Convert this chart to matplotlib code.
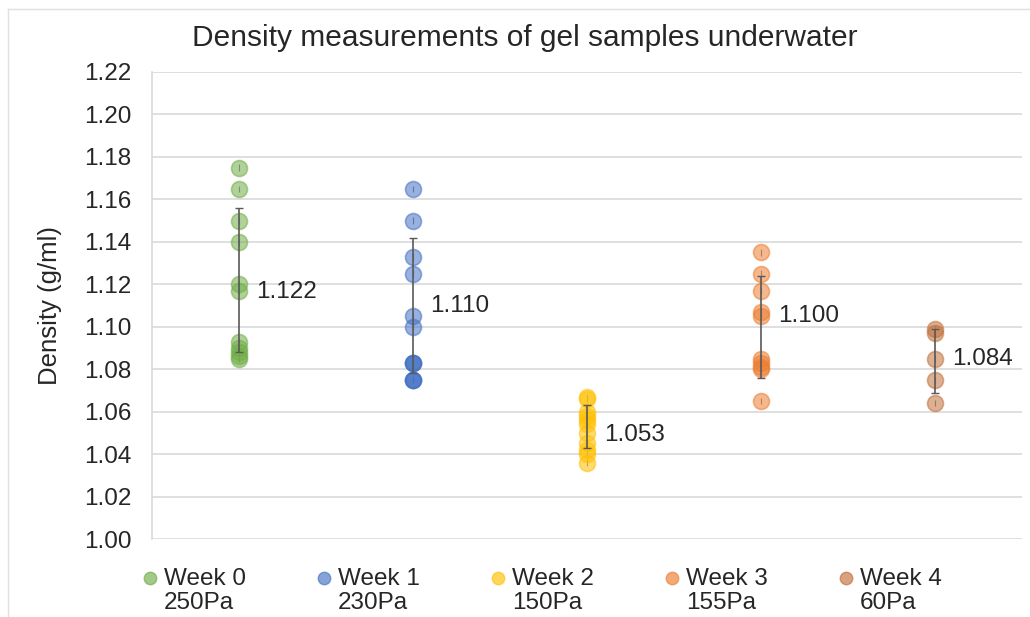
import numpy as np
import matplotlib
matplotlib.use('Agg')
import matplotlib.pyplot as plt
from matplotlib.lines import Line2D

plt.rcParams['font.family'] = ['Liberation Sans', 'DejaVu Sans']

#%% data
groups = ['Week 0\n250Pa', 'Week 1\n230Pa', 'Week 2\n150Pa', 'Week 3\n155Pa', 'Week 4\n60Pa']
week0 = [1.175, 1.165, 1.150, 1.140, 1.120, 1.117, 1.093, 1.090, 1.088, 1.086, 1.085]
week1 = [1.165, 1.150, 1.133, 1.125, 1.105, 1.100, 1.083, 1.083, 1.083, 1.075, 1.075, 1.075]
week2 = [1.067, 1.066, 1.060, 1.058, 1.056, 1.054, 1.050, 1.045, 1.042, 1.040, 1.036]
week3 = [1.135, 1.125, 1.117, 1.107, 1.105, 1.085, 1.083, 1.081, 1.080, 1.065]
week4 = [1.099, 1.097, 1.085, 1.075, 1.064]
means = [1.122, 1.110, 1.053, 1.100, 1.084]
stdev = [0.034, 0.032, 0.010, 0.024, 0.015]

#%% style
face = ['#70AD47', '#4472C4', '#FFC000', '#ED7D31', '#C0703A']
label_dy = [-12, 0, -9, 11, 2]   # label nudge in pixels (Excel placement), + is up
fs = 17.5

fig = plt.figure(figsize=(10.30, 6.17), dpi=100)
ax = fig.add_axes([152/1030, 78/617, 870/1030, 467/617])

series = [week0, week1, week2, week3, week4]
for i, vals in enumerate(series):
    x = np.full(len(vals), i)
    ax.errorbar(x, vals, yerr=0.0015, fmt='none', ecolor='#7F7F7F', elinewidth=0.8, zorder=2)
    ax.plot(x, vals, 'o', ms=11.5, mfc=face[i], mec=face[i], alpha=0.55, mew=1.2, zorder=3)
    ax.errorbar(i, means[i], yerr=stdev[i], fmt='none', ecolor='#595959',
                elinewidth=1.2, capsize=3, capthick=1, zorder=4)
    ax.annotate('%.3f' % means[i], (i, means[i]), xytext=(12, label_dy[i] * 0.72),
                textcoords='offset points', ha='left', va='center', fontsize=fs, color='#262626')

ax.set_xlim(-0.5, 4.5)
ax.set_ylim(1.00, 1.22)
ax.set_yticks(np.arange(1.00, 1.221, 0.02))
ax.set_yticklabels(['%.2f' % t for t in np.arange(1.00, 1.221, 0.02)])
ax.set_xticks([])
ax.tick_params(axis='y', length=0, labelsize=fs, pad=15, labelcolor='#262626')
ax.grid(axis='y', color='#D9D9D9', linewidth=1.2)
ax.set_axisbelow(True)
for s in ['top', 'right', 'bottom']:
    ax.spines[s].set_visible(False)
ax.spines['left'].set_color('#D9D9D9')
ax.spines['left'].set_linewidth(1.2)
ax.set_ylabel('Density (g/ml)', fontsize=18.5, color='#262626')
ax.yaxis.set_label_coords(-90/870, 0.5)

fig.text(525/1030, 1 - 38/617, 'Density measurements of gel samples underwater',
         ha='center', va='center', fontsize=21.5, color='#262626')

# legend under the plot, one column per group
for i, g in enumerate(groups):
    xc = (150 + 174 * i) / 1030
    fig.add_artist(Line2D([xc], [1 - 578/617], marker='o', ms=9, mfc=face[i], mec=face[i],
                          alpha=0.65, transform=fig.transFigure))
    fig.text(xc + 14/1030, 1 - 591/617, g, ha='left', va='center', fontsize=fs,
             color='#262626', linespacing=1.1)

# thin chart border on top and left
fig.add_artist(Line2D([8/1030, 8/1030], [0, 1 - 9/617], color='#E0E0E0', lw=1, transform=fig.transFigure))
fig.add_artist(Line2D([8/1030, 1], [1 - 9/617, 1 - 9/617], color='#E0E0E0', lw=1, transform=fig.transFigure))

plt.savefig('out.png', dpi=100)
